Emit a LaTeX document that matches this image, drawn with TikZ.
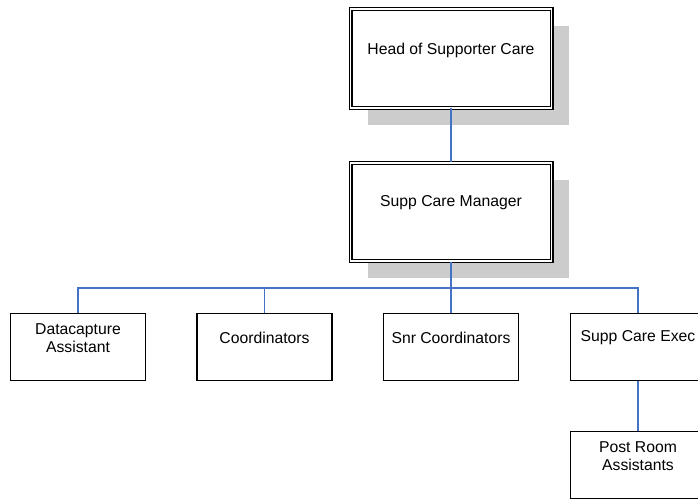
\documentclass[tikz,border=0pt]{standalone}
\usepackage{fontspec}
\setmainfont{Liberation Sans}
\usetikzlibrary{shadows}
\definecolor{linkblue}{RGB}{68,114,196}
\definecolor{shadegray}{RGB}{204,204,204}

\begin{document}
\begin{tikzpicture}[x=0.75pt,y=-0.75pt,
  every node/.style={font=\fontsize{11.8pt}{14pt}\selectfont},
  lbl/.style={yshift=6.75pt, align=center},
  bigbox/.style={draw=black, line width=0.8pt, double=white, double distance=1.4pt,
    fill=white, minimum width=150.75pt, minimum height=74pt, inner sep=0pt,
    drop shadow={shadow xshift=12.75pt, shadow yshift=-12.75pt, fill=shadegray, opacity=1}},
  smallbox/.style={draw=black, line width=1pt, fill=white,
    minimum width=101.25pt, minimum height=50.25pt, inner sep=0pt},
  link/.style={draw=linkblue, line width=0.8pt}]
	\useasboundingbox (0,0) rectangle (698,500);

% top of the chart
\node[bigbox, label={[lbl, yshift=-0.5pt]center:Head of Supporter Care}] (head) at (451,58.5) {};
\node[bigbox, label={[lbl]center:Supp Care Manager}] (mgr) at (451,212) {};

% staff row
\node[smallbox, label={[lbl]center:{Datacapture\\Assistant}}] (dc) at (78,347) {};
\node[smallbox, label={[lbl]center:Coordinators}] (coord) at (264.5,347) {};
\node[smallbox, label={[lbl]center:Snr Coordinators}] (snr) at (451,347) {};
\node[smallbox, label={[lbl]center:Supp Care Exec}] (exec) at (638,347) {};

% below the exec
\node[smallbox, label={[lbl]center:{Post Room\\Assistants}}] (post) at (638,465) {};

\coordinate (bus) at (451,288);

\draw[link] (head) -- (mgr);
\draw[link] (mgr) -- (bus);
\draw[link] (bus) -| (dc);
\draw[link] (bus) -| (coord);
\draw[link] (bus) -- (snr);
\draw[link] (bus) -| (exec);
\draw[link] (exec) -- (post);

\end{tikzpicture}
\end{document}
